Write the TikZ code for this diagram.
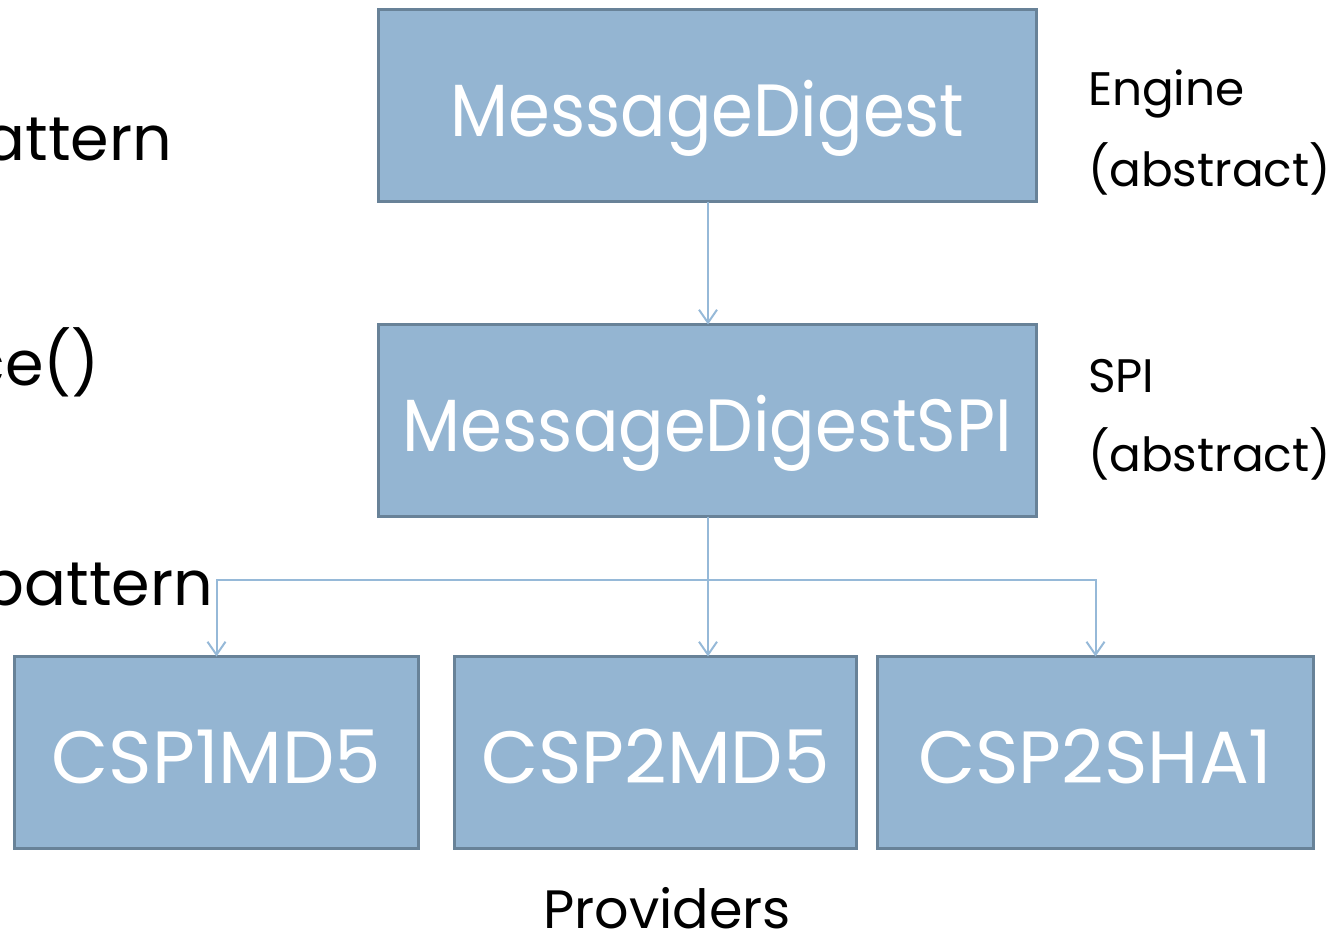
\documentclass[tikz,border=0pt]{standalone}
\usepackage{fontspec}
\setmainfont{Poppins}
\usetikzlibrary{arrows.meta}

\definecolor{boxfill}{RGB}{148,181,210}
\definecolor{boxline}{RGB}{104,130,152}
\definecolor{linkcol}{RGB}{150,185,216}

% slightly condensed label for the long class names
\newcommand{\narrowlbl}[1]{\scalebox{0.91}[1]{#1}}

\tikzset{
  cls/.style={draw=boxline, line width=3.5pt, fill=boxfill, text=white,
    inner sep=0pt, outer sep=0pt, text height=62pt, text depth=0pt,
    minimum height=192pt, font=\fontsize{74}{80}\selectfont},
  note/.style={inner sep=0pt, outer sep=0pt, text=black, font=\fontsize{47}{56}\selectfont},
  side/.style={inner sep=0pt, outer sep=0pt, text=black, font=\fontsize{62}{70}\selectfont},
  link/.style={draw=linkcol, line width=2pt,
    -{Straight Barb[length=13pt,width=18pt,line width=2pt]}},
}

\begin{document}
\begin{tikzpicture}[x=1pt,y=-1pt]
\useasboundingbox (0,0) rectangle (1334,937);

% class boxes
\node[cls, minimum width=658pt] (md)  at (707.5,105.5) {\narrowlbl{MessageDigest}};
\node[cls, minimum width=658pt] (spi) at (707.5,420.5) {\narrowlbl{MessageDigestSPI}};
\node[cls, minimum width=404pt] (p1)  at (216.5,752.5) {CSP1MD5};
\node[cls, minimum width=402pt] (p2)  at (655.5,752.5) {CSP2MD5};
\node[cls, minimum width=436pt] (p3)  at (1095.5,752.5) {CSP2SHA1};

% connectors
\coordinate (bus) at (708,580);
\draw[link] (md.south -| bus) -- (spi.north -| bus);
\draw[link] (spi.south -| bus) -- (bus) -| (p1.north);
\draw[link] (bus) -| (p3.north);
\draw[link] (bus) -- (bus |- p2.north);

% role labels
\node[note, anchor=base west] (eng)  at (1088,105) {Engine};
\node[note, anchor=base west] (eabs) at (1088,186) {(abstract)};
\node[note, anchor=base west] (spil) at (1088,392) {SPI};
\node[note, anchor=base west] (sabs) at (1088,471) {(abstract)};
\node[note, anchor=base, font=\fontsize{54}{60}\selectfont] (prov) at (667,928) {Providers};

% left-hand text running off the edge
\node[side, anchor=base east] (l1) at (172,160) {pattern};
\node[side, anchor=base east] (l2) at (100,385) {ce()};
\node[side, anchor=base east] (l3) at (213,605) {pattern};
\end{tikzpicture}
\end{document}
